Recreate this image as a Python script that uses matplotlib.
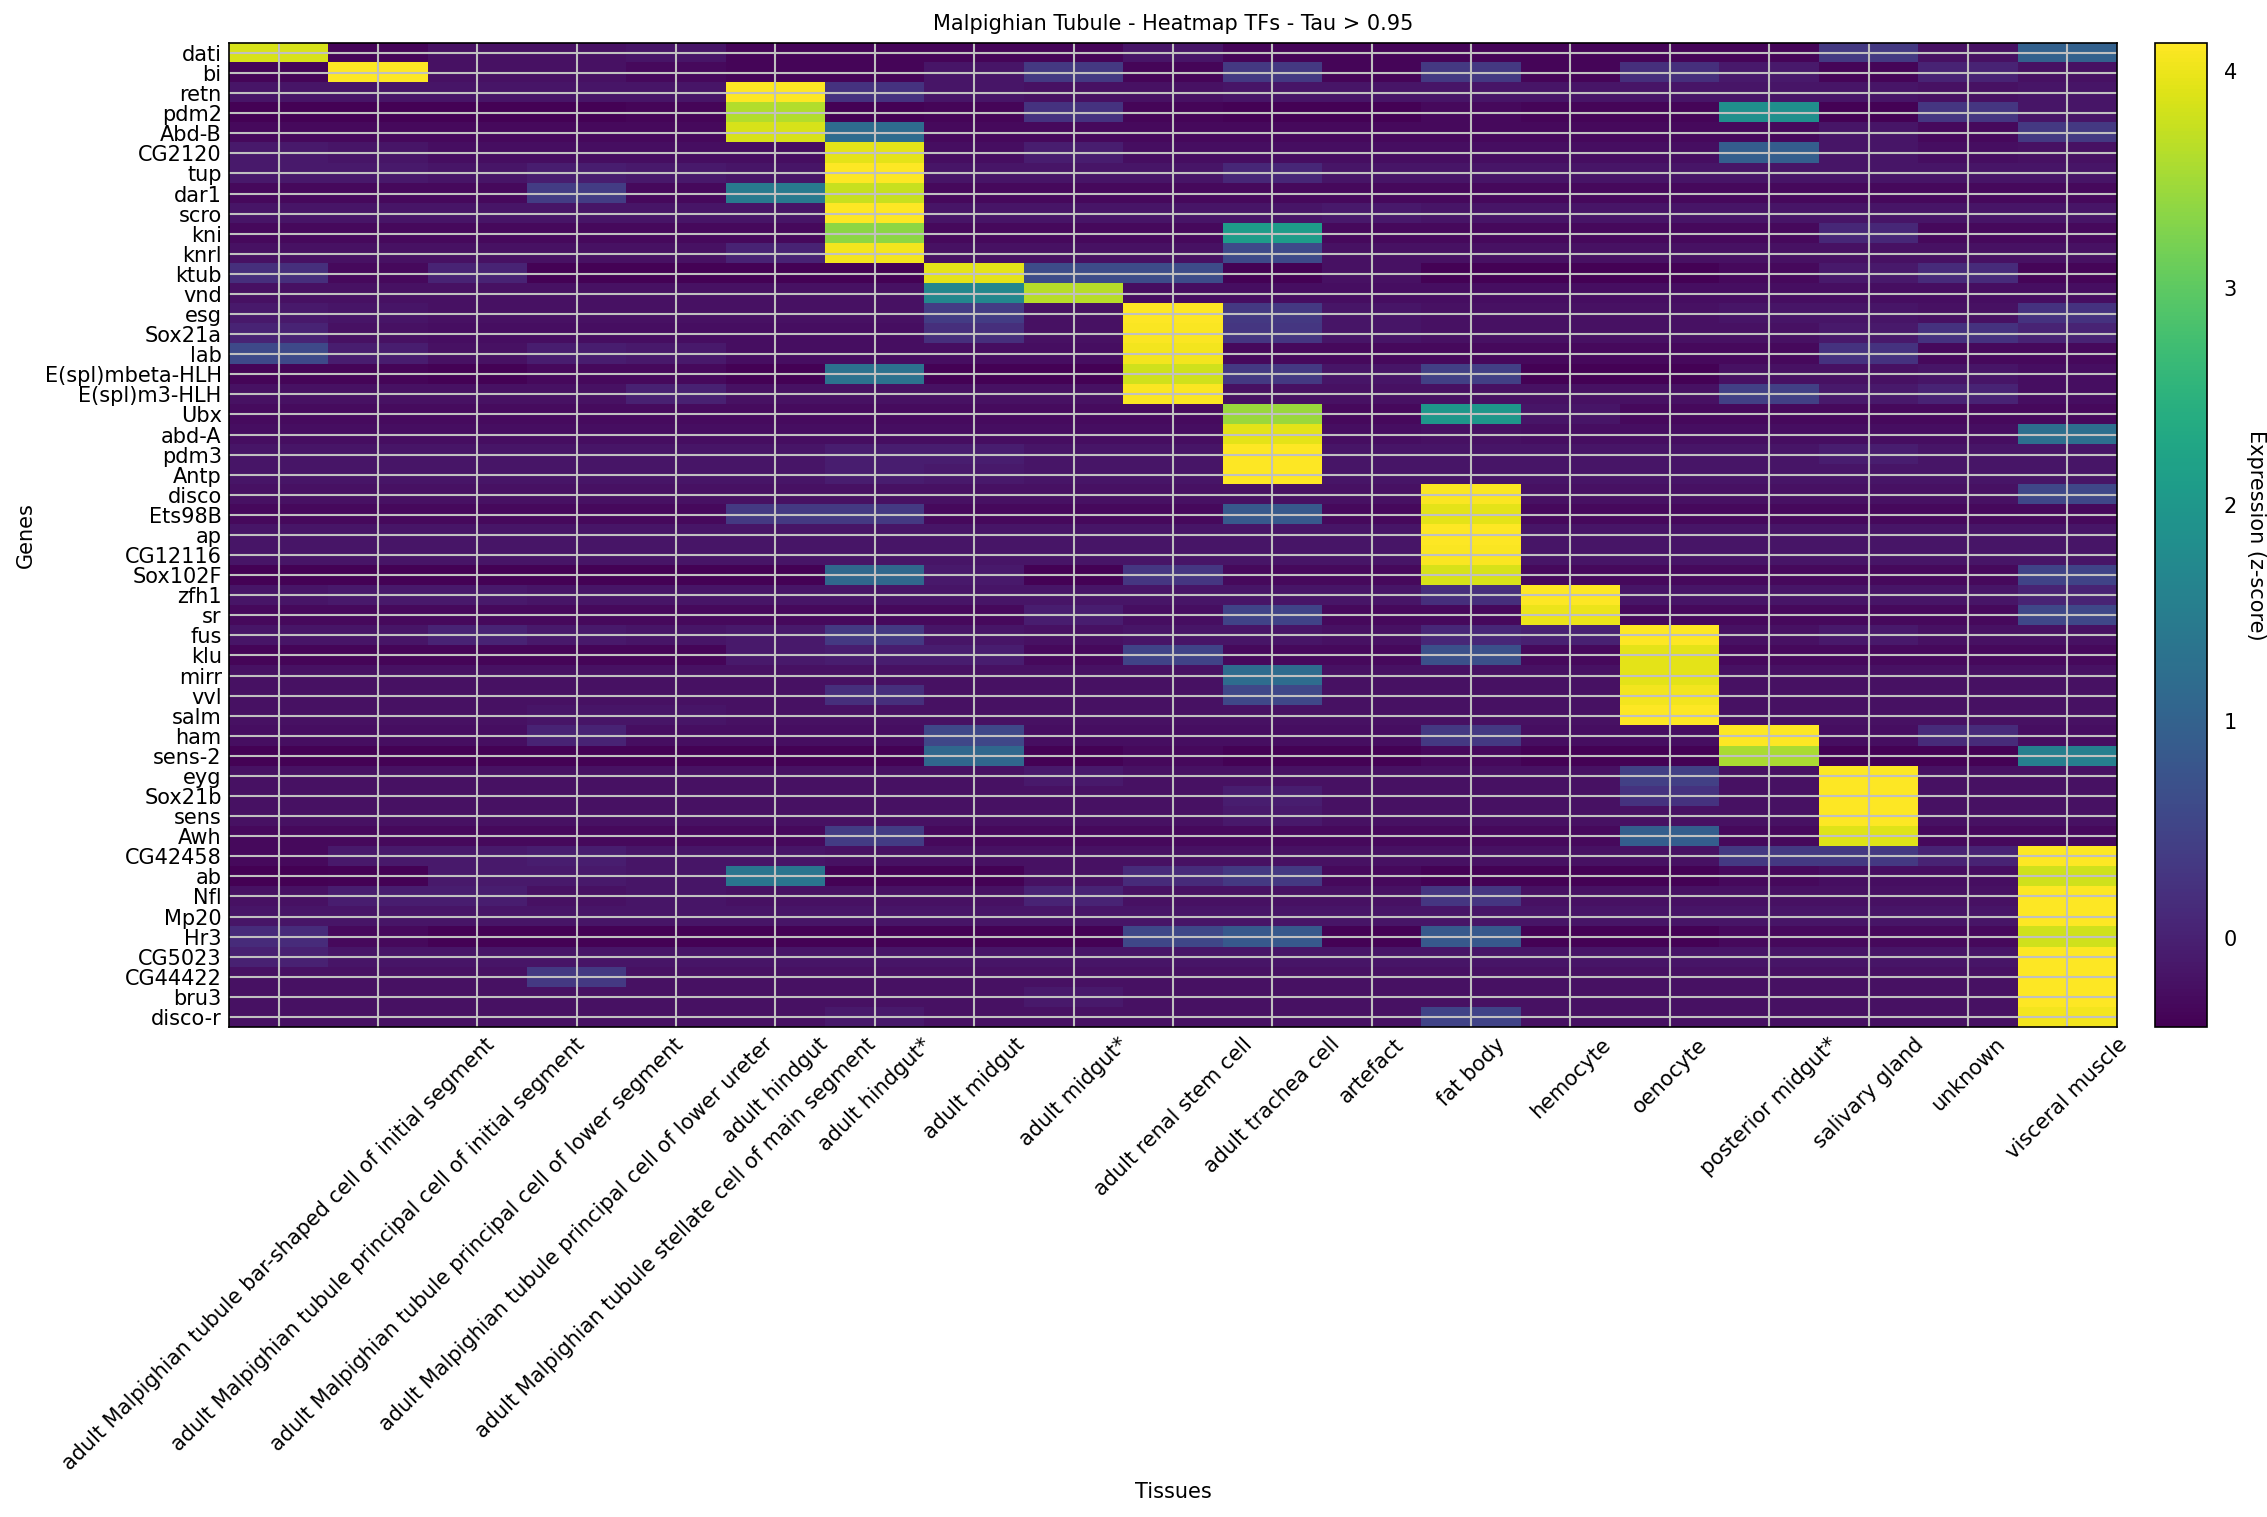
import numpy as np
import matplotlib
matplotlib.use("Agg")
import matplotlib.pyplot as plt

tissues = [
    "adult Malpighian tubule bar-shaped cell of initial segment",
    "adult Malpighian tubule principal cell of initial segment",
    "adult Malpighian tubule principal cell of lower segment",
    "adult Malpighian tubule principal cell of lower ureter",
    "adult Malpighian tubule stellate cell of main segment",
    "adult hindgut",
    "adult hindgut*",
    "adult midgut",
    "adult midgut*",
    "adult renal stem cell",
    "adult trachea cell",
    "artefact",
    "fat body",
    "hemocyte",
    "oenocyte",
    "posterior midgut*",
    "salivary gland",
    "unknown",
    "visceral muscle",
]

genes = [
    "dati", "bi", "retn", "pdm2", "Abd-B", "CG2120", "tup", "dar1", "scro",
    "kni", "knrl", "ktub", "vnd", "esg", "Sox21a", "lab", "E(spl)mbeta-HLH",
    "E(spl)m3-HLH", "Ubx", "abd-A", "pdm3", "Antp", "disco", "Ets98B", "ap",
    "CG12116", "Sox102F", "zfh1", "sr", "fus", "klu", "mirr", "vvl", "salm",
    "ham", "sens-2", "eyg", "Sox21b", "sens", "Awh", "CG42458", "ab", "Nfl",
    "Mp20", "Hr3", "CG5023", "CG44422", "bru3", "disco-r",
]

# z-scores, one row per gene, one value per tissue
zscores = [
    [3.85, -0.35, -0.2, -0.2, -0.15, -0.35, -0.35, -0.35, -0.35, -0.15, -0.35, -0.35, -0.35, -0.35, -0.35, -0.35, 0.35, -0.2, 1.0],
    [-0.35, 4.13, -0.2, -0.2, -0.3, -0.35, -0.35, -0.15, 0.35, -0.35, 0.35, -0.35, 0.35, -0.35, 0.2, -0.1, -0.35, 0.05, -0.2],
    [-0.15, -0.15, -0.15, -0.15, -0.15, 4.13, 0.25, -0.15, -0.2, -0.2, -0.15, -0.15, -0.15, -0.15, -0.15, -0.15, -0.15, -0.2, -0.15],
    [-0.38, -0.38, -0.38, -0.38, -0.35, 3.6, -0.38, -0.35, 0.25, -0.35, -0.38, -0.38, -0.3, -0.35, -0.35, 1.85, -0.38, 0.3, -0.15],
    [-0.3, -0.3, -0.3, -0.3, -0.3, 3.85, 1.2, -0.3, -0.3, -0.3, -0.3, -0.3, -0.3, -0.3, -0.3, -0.3, -0.15, -0.3, 0.35],
    [-0.1, -0.15, -0.25, -0.25, -0.25, -0.25, 3.95, -0.25, -0.05, -0.25, -0.25, -0.25, -0.25, -0.25, -0.25, 0.95, -0.15, -0.25, -0.2],
    [-0.1, -0.1, -0.15, -0.05, -0.1, -0.15, 4.13, -0.15, -0.15, -0.15, 0.1, -0.15, -0.15, -0.15, -0.15, -0.15, -0.15, -0.15, -0.15],
    [-0.3, -0.3, -0.3, 0.4, -0.3, 1.45, 3.75, -0.3, -0.3, -0.3, -0.3, -0.3, -0.3, -0.3, -0.3, -0.3, -0.3, -0.3, -0.3],
    [-0.15, -0.15, -0.15, -0.15, -0.15, -0.15, 4.13, -0.15, -0.15, -0.15, -0.15, -0.1, -0.15, -0.15, -0.15, -0.15, -0.15, -0.15, -0.15],
    [-0.3, -0.3, -0.3, -0.3, -0.3, -0.3, 3.35, -0.3, -0.3, -0.3, 2.1, -0.3, -0.3, -0.3, -0.3, -0.3, 0.1, -0.3, -0.3],
    [-0.2, -0.2, -0.2, -0.2, -0.2, 0.05, 4.05, -0.2, -0.2, -0.2, 0.6, -0.2, -0.2, -0.2, -0.2, -0.2, -0.2, -0.2, -0.2],
    [0.2, -0.3, 0.05, -0.38, -0.38, -0.38, -0.38, 3.95, 0.65, 0.65, -0.38, -0.2, -0.38, -0.38, -0.38, -0.3, -0.1, 0.15, -0.35],
    [-0.2, -0.2, -0.2, -0.2, -0.2, -0.2, -0.2, 1.7, 3.65, -0.25, -0.25, -0.25, -0.25, -0.25, -0.25, -0.25, -0.25, -0.25, -0.25],
    [-0.1, -0.15, -0.2, -0.2, -0.2, -0.2, -0.2, 0.4, -0.2, 4.13, 0.35, -0.15, -0.2, -0.2, -0.2, -0.15, -0.15, -0.2, 0.25],
    [0.05, -0.2, -0.25, -0.25, -0.25, -0.25, -0.25, 0.2, -0.2, 4.1, 0.3, -0.15, -0.2, -0.2, -0.2, -0.2, -0.1, 0.25, 0.05],
    [0.6, -0.05, -0.2, -0.05, -0.1, -0.25, -0.25, -0.25, -0.25, 4.05, -0.3, -0.3, -0.3, -0.3, -0.3, -0.3, 0.25, -0.3, -0.3],
    [-0.35, -0.35, -0.38, -0.3, -0.3, -0.38, 1.3, -0.38, -0.38, 3.8, 0.35, -0.15, 0.45, -0.38, -0.38, -0.2, -0.2, -0.15, -0.25],
    [-0.2, -0.2, -0.2, -0.2, 0.0, -0.2, -0.2, -0.2, -0.2, 4.1, -0.2, -0.2, -0.2, -0.2, -0.2, 0.45, -0.1, 0.05, -0.25],
    [-0.28, -0.28, -0.28, -0.28, -0.28, -0.28, -0.28, -0.28, -0.28, -0.28, 3.45, -0.3, 2.0, -0.15, -0.3, -0.3, -0.3, -0.3, -0.3],
    [-0.25, -0.25, -0.25, -0.25, -0.25, -0.25, -0.25, -0.25, -0.25, -0.25, 3.95, -0.25, -0.2, -0.25, -0.25, -0.25, -0.25, -0.25, 1.25],
    [-0.15, -0.15, -0.15, -0.15, -0.15, -0.15, -0.05, -0.05, -0.15, -0.15, 4.13, -0.15, -0.15, -0.15, -0.15, -0.15, -0.05, -0.15, -0.15],
    [-0.15, -0.15, -0.15, -0.15, -0.15, -0.15, -0.05, -0.1, -0.15, -0.15, 4.13, -0.15, -0.15, -0.15, -0.15, -0.15, -0.15, -0.15, -0.15],
    [-0.2, -0.2, -0.2, -0.2, -0.2, -0.2, -0.2, -0.2, -0.2, -0.2, -0.2, -0.2, 4.1, -0.2, -0.2, -0.2, -0.2, -0.2, 0.55],
    [-0.3, -0.3, -0.3, -0.3, -0.3, 0.35, 0.35, -0.3, -0.3, -0.3, 0.85, -0.3, 3.95, -0.3, -0.3, -0.3, -0.3, -0.3, -0.3],
    [-0.15, -0.15, -0.15, -0.15, -0.15, -0.15, -0.15, -0.15, -0.15, -0.15, -0.15, -0.15, 4.13, -0.15, -0.15, -0.15, -0.15, -0.15, -0.15],
    [-0.15, -0.15, -0.15, -0.15, -0.15, -0.15, -0.15, -0.15, -0.15, -0.15, -0.15, -0.15, 4.1, -0.15, -0.15, -0.15, -0.15, -0.15, -0.15],
    [-0.38, -0.38, -0.38, -0.38, -0.38, -0.38, 1.1, -0.1, -0.38, 0.3, -0.3, -0.3, 3.85, -0.3, -0.3, -0.3, -0.3, -0.3, 0.5],
    [-0.15, -0.1, -0.1, -0.15, -0.15, -0.15, -0.15, -0.15, -0.15, -0.15, -0.15, -0.15, 0.2, 4.13, -0.15, -0.15, -0.15, -0.15, 0.05],
    [-0.3, -0.3, -0.3, -0.3, -0.3, -0.3, -0.3, -0.3, -0.05, -0.25, 0.5, -0.3, -0.3, 4.0, -0.3, -0.3, -0.3, -0.3, 0.55],
    [-0.15, -0.15, 0.05, -0.1, -0.15, -0.1, 0.35, -0.15, -0.2, -0.15, -0.15, -0.2, 0.1, 0.0, 4.13, -0.2, -0.1, -0.2, -0.2],
    [-0.35, -0.35, -0.35, -0.35, -0.35, -0.1, -0.05, -0.05, -0.3, 0.5, -0.3, -0.3, 0.7, -0.3, 3.95, -0.3, -0.3, -0.3, -0.3],
    [-0.2, -0.2, -0.2, -0.2, -0.2, -0.2, -0.2, -0.2, -0.2, -0.2, 1.2, -0.2, -0.2, -0.2, 3.95, -0.2, -0.2, -0.2, -0.2],
    [-0.2, -0.2, -0.2, -0.2, -0.2, -0.2, 0.2, -0.2, -0.2, -0.2, 0.55, -0.2, -0.2, -0.2, 4.05, -0.2, -0.2, -0.2, -0.2],
    [-0.2, -0.2, -0.2, -0.15, -0.15, -0.2, -0.2, -0.2, -0.2, -0.2, -0.2, -0.2, -0.2, -0.2, 4.13, -0.2, -0.2, -0.2, -0.2],
    [-0.25, -0.25, -0.25, 0.05, -0.25, -0.25, -0.25, 0.55, -0.25, -0.25, -0.25, -0.25, 0.35, -0.25, -0.25, 4.13, -0.25, 0.15, -0.25],
    [-0.38, -0.38, -0.38, -0.38, -0.38, -0.38, -0.38, 1.1, -0.38, -0.3, -0.38, -0.38, -0.3, -0.38, -0.38, 3.55, -0.38, -0.38, 1.55],
    [-0.2, -0.2, -0.2, -0.2, -0.2, -0.2, -0.2, -0.2, -0.1, -0.2, -0.2, -0.2, -0.2, -0.2, 0.45, -0.2, 4.13, -0.2, -0.2],
    [-0.2, -0.2, -0.2, -0.2, -0.2, -0.2, -0.2, -0.2, -0.2, -0.2, -0.05, -0.2, -0.2, -0.2, 0.25, -0.2, 4.13, -0.2, -0.2],
    [-0.2, -0.2, -0.2, -0.2, -0.2, -0.2, -0.2, -0.2, -0.2, -0.2, -0.1, -0.2, -0.2, -0.2, -0.2, -0.2, 4.13, -0.2, -0.2],
    [-0.3, -0.3, -0.3, -0.3, -0.3, -0.3, 0.4, -0.3, -0.3, -0.3, -0.3, -0.3, -0.3, -0.3, 0.95, -0.3, 3.9, -0.3, -0.3],
    [-0.3, -0.1, -0.1, -0.05, -0.15, -0.15, -0.2, -0.2, -0.2, -0.2, -0.2, -0.2, -0.2, -0.2, -0.2, 0.35, 0.35, 0.05, 4.13],
    [-0.41, -0.38, -0.1, -0.1, -0.15, 1.35, -0.38, -0.38, -0.2, 0.15, 0.35, -0.3, -0.38, -0.38, -0.38, -0.3, -0.25, -0.25, 3.8],
    [-0.2, -0.05, -0.05, -0.2, -0.15, -0.2, -0.2, -0.2, 0.05, -0.2, -0.2, -0.2, 0.3, -0.2, -0.2, -0.2, -0.2, -0.2, 4.13],
    [-0.15, -0.15, -0.15, -0.15, -0.15, -0.15, -0.15, -0.15, -0.15, -0.15, -0.15, -0.15, -0.15, -0.15, -0.15, -0.15, -0.15, -0.15, 4.13],
    [0.15, -0.3, -0.38, -0.38, -0.38, -0.38, -0.38, -0.38, -0.38, 0.55, 0.85, -0.38, 0.85, -0.38, -0.38, -0.3, -0.3, -0.3, 3.8],
    [0.0, -0.15, -0.15, -0.15, -0.15, -0.15, -0.15, -0.15, -0.15, -0.15, -0.15, -0.15, -0.15, -0.15, -0.15, -0.15, -0.15, -0.15, 4.13],
    [-0.2, -0.2, -0.2, 0.35, -0.2, -0.2, -0.2, -0.2, -0.2, -0.2, -0.2, -0.2, -0.2, -0.2, -0.2, -0.2, -0.2, -0.2, 4.13],
    [-0.2, -0.2, -0.2, -0.2, -0.2, -0.2, -0.2, -0.2, -0.1, -0.2, -0.2, -0.2, -0.2, -0.2, -0.2, -0.2, -0.2, -0.2, 4.13],
    [-0.2, -0.2, -0.2, -0.2, -0.2, -0.2, -0.1, -0.2, -0.2, -0.2, -0.2, -0.2, 0.5, -0.2, -0.2, -0.2, -0.2, -0.2, 4.05],
]

data = np.array(zscores)

fig = plt.figure(figsize=(2267 / 150, 1517 / 150), dpi=150)
ax = fig.add_axes([0.101, 0.323, 0.8328, 0.6487])
im = ax.imshow(data, aspect='auto', cmap='viridis', interpolation='nearest')

ax.set_xticks(range(len(tissues)))
ax.set_xticklabels(tissues, rotation=45)
ax.set_yticks(range(len(genes)))
ax.set_yticklabels(genes)
ax.tick_params(length=0, labelsize=10)
ax.grid(True, color='#c0c0c0', linewidth=1.0)

ax.set_title('Malpighian Tubule - Heatmap TFs - Tau > 0.95', fontsize=10)
ax.set_xlabel('Tissues', fontsize=10)
ax.set_ylabel('Genes', fontsize=10)

cax = fig.add_axes([0.9506, 0.323, 0.023, 0.6487])
cb = fig.colorbar(im, cax=cax)
cb.ax.tick_params(length=0, pad=8, labelsize=10)
cb.set_label('Expression (z-score)', rotation=270, labelpad=14, fontsize=10)

fig.savefig('out.png', dpi=150)
